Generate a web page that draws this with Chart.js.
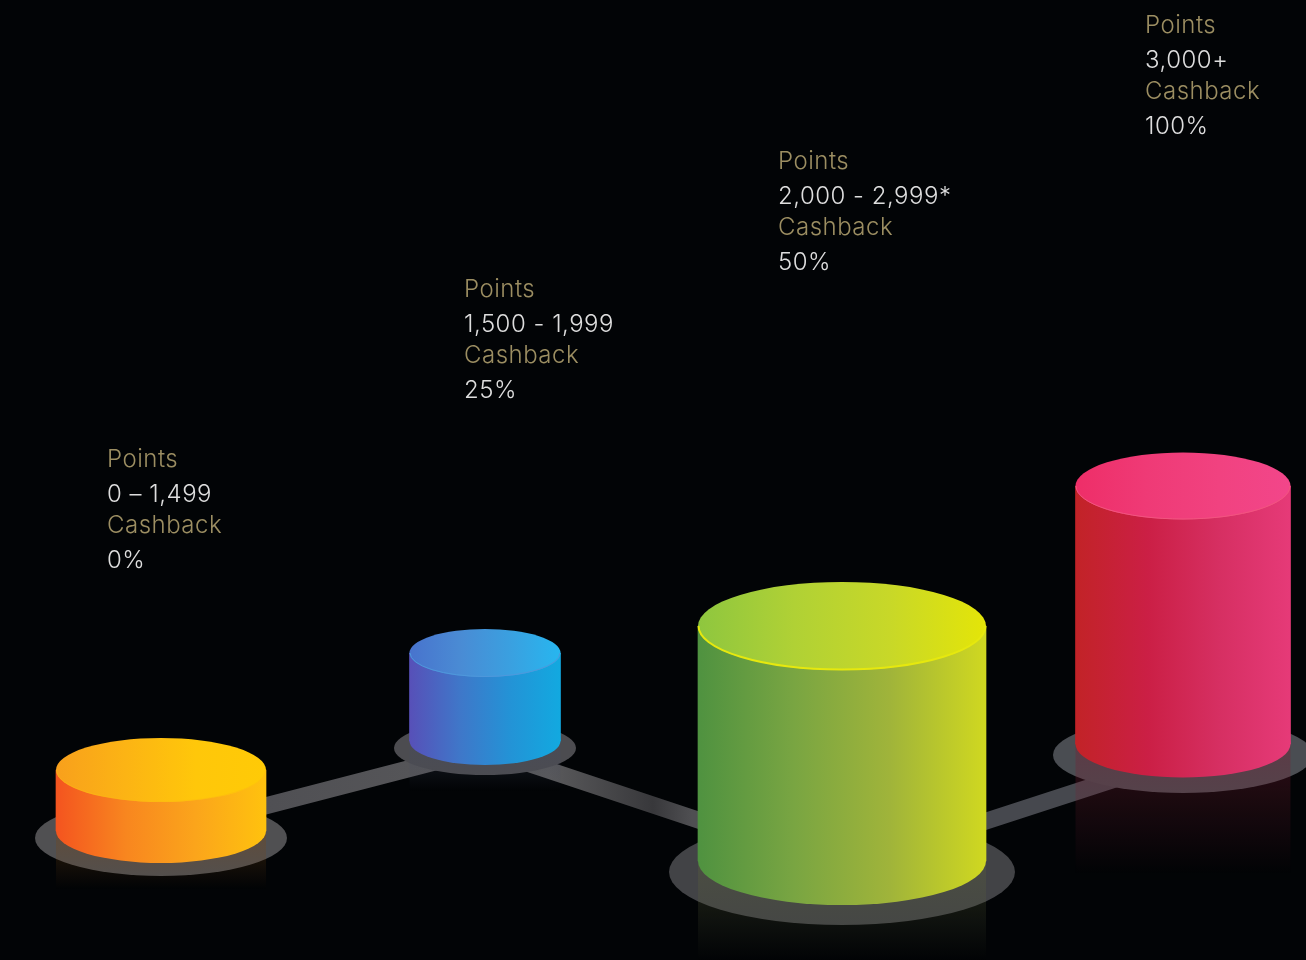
<!DOCTYPE html>
<html>
<head>
<meta charset="utf-8">
<title>Points and cashback</title>
<script src="https://cdn.jsdelivr.net/npm/chart.js@4"></script>
<style>
  html, body { margin: 0; padding: 0; background: #020406; overflow: hidden; }
  canvas { display: block; }
</style>
</head>
<body>
<canvas id="tiers_chart" width="1306" height="960"></canvas>
<script>
// values
const pointRanges = ['0 – 1,499', '1,500 - 1,999', '2,000 - 2,999*', '3,000+'];
const cashback = ['0%', '25%', '50%', '100%'];
const tierPosition = [161, 485, 842, 1183];
const cylinderFloor = [129, 219, 99, 216];
const cylinderHeight = [61, 88, 235, 258];
const trackLevel = [127, 211, 92, 203];

// drawing styles, one entry per tier
const cylinderWidth = [210, 151, 288, 215];
const capRadius = [32, 24, 44, 33.5];
const plateRx = [126, 91, 173, 130];
const plateRy = [38, 27, 53, 38];
const plateDrop = [7, 7, 11, 11];
const plateColor = ['#505052', '#4c4c50', '#424346', '#4a4d52'];
const reflectDepth = [58, 50, 100, 130];
const reflectColor = ['120,70,20', '70,75,95', '90,95,60', '120,30,50'];
const labelX = [107, 464, 778, 1145];
const labelY = [467, 297, 169, 33];
const lineGap = [0, 35, 66, 101];
const sideStops = [
    ['#f4541f', '#f8861f', '#fba51b', '#ffc20e'],
    ['#5750b8', '#3f77c9', '#2393d6', '#12a9e0'],
    ['#4f9240', '#79a542', '#a0b43a', '#d0d820'],
    ['#c22327', '#cb1f45', '#d62f62', '#e63a78']
];
const capStops = [
    ['#f8a01c', '#fcb414', '#ffc70a', '#ffca06'],
    ['#4873cd', '#4a8bd4', '#3aa0e0', '#27b6ef'],
    ['#8ec63f', '#b0d135', '#c8d828', '#e4e508'],
    ['#ee2e68', '#ef3a76', '#f14280', '#f2468a']
];
const rimColor = ['#fdb813', '#4f98dc', '#e6e80e', '#f2557f'];
const rimWidth = [0.5, 1, 2, 1];
const trackStops = [[0, '#46464c'], [0.42, '#5a5a5c'], [0.5, '#38383b'], [0.53, '#4f4f52'], [0.76, '#46484e'], [1, '#46484e']];

const ctx = document.getElementById('tiers_chart');

function sideGradient(chart, i, stops) {
    var x = chart.scales.x;
    var left = x.getPixelForValue(tierPosition[i] - cylinderWidth[i] / 2);
    var right = x.getPixelForValue(tierPosition[i] + cylinderWidth[i] / 2);
    // scales are not laid out yet on the first pass
    if (!isFinite(left) || !isFinite(right)) return stops[0];
    var g = chart.ctx.createLinearGradient(left, 0, right, 0);
    stops.forEach(function (c, n) { g.addColorStop(n / (stops.length - 1), c); });
    return g;
}

function ellipse(c, x, y, rx, ry, fill) {
    c.beginPath();
    c.ellipse(x, y, rx, ry, 0, 0, Math.PI * 2);
    c.fillStyle = fill;
    c.fill();
}

const cylinderPlugin = {
    id: 'cylinders',
    beforeDatasetDraw: function (chart, args) {
        if (args.meta.type !== 'bar') return;
        var i = args.index - 1, bar = args.meta.data[0], c = chart.ctx;
        c.save();
        ellipse(c, bar.x, bar.base + plateDrop[i], plateRx[i], plateRy[i], plateColor[i]);
        var fade = c.createLinearGradient(0, bar.base, 0, bar.base + reflectDepth[i]);
        fade.addColorStop(0, 'rgba(' + reflectColor[i] + ',0.38)');
        fade.addColorStop(1, 'rgba(' + reflectColor[i] + ',0)');
        c.fillStyle = fade;
        c.fillRect(bar.x - bar.width / 2, bar.base, bar.width, reflectDepth[i]);
        ellipse(c, bar.x, bar.base, bar.width / 2, capRadius[i], sideGradient(chart, i, sideStops[i]));
        c.restore();
    },
    afterDatasetDraw: function (chart, args) {
        if (args.meta.type !== 'bar') return;
        var i = args.index - 1, bar = args.meta.data[0], c = chart.ctx;
        c.save();
        ellipse(c, bar.x, bar.y, bar.width / 2, capRadius[i], sideGradient(chart, i, capStops[i]));
        c.beginPath();
        c.ellipse(bar.x, bar.y, bar.width / 2 - 0.5, capRadius[i] - 0.5, 0, 0, Math.PI);
        c.strokeStyle = rimColor[i];
        c.lineWidth = rimWidth[i];
        c.stroke();
        c.restore();
    },
    afterDraw: function (chart) {
        var c = chart.ctx;
        c.save();
        c.font = '300 24px Inter';
        c.letterSpacing = '0.5px';
        c.textBaseline = 'alphabetic';
        pointRanges.forEach(function (range, i) {
            var lines = ['Points', range, 'Cashback', cashback[i]];
            lines.forEach(function (text, n) {
                c.fillStyle = n % 2 === 0 ? '#9c8e62' : '#dedede';
                c.fillText(text, labelX[i], labelY[i] + lineGap[n]);
            });
        });
        c.restore();
    }
};

// one dataset per tier so each cylinder keeps its own width
var cylinders = pointRanges.map(function (range, i) {
    return {
        type: 'bar',
        label: range,
        order: 1,
        grouped: false,
        barThickness: cylinderWidth[i],
        borderWidth: 0,
        data: [{ x: tierPosition[i], y: [cylinderFloor[i], cylinderFloor[i] + cylinderHeight[i]] }],
        backgroundColor: function (context) {
            return sideGradient(context.chart, i, sideStops[i]);
        }
    };
});

var track = {
    type: 'line',
    label: 'track',
    order: 2,
    data: tierPosition.map(function (x, i) { return { x: x, y: trackLevel[i] }; }),
    borderColor: function (context) {
        var area = context.chart.chartArea;
        if (!area) return trackStops[0][1];
        var g = context.chart.ctx.createLinearGradient(area.left, 0, area.right, 0);
        trackStops.forEach(function (s) { g.addColorStop(s[0], s[1]); });
        return g;
    },
    borderWidth: 17,
    tension: 0,
    pointRadius: 0,
    borderJoinStyle: 'bevel'
};

new Chart(ctx, {
    data: { datasets: [track].concat(cylinders) },
    plugins: [cylinderPlugin],
    options: {
        responsive: false,
        animation: false,
        layout: { padding: 0 },
        plugins: { legend: { display: false }, tooltip: { enabled: false }, title: { display: false } },
        scales: {
            x: { type: 'linear', min: 0, max: 1306, offset: false, display: false },
            y: { type: 'linear', min: 0, max: 960, display: false }
        }
    }
});
</script>
</body>
</html>
